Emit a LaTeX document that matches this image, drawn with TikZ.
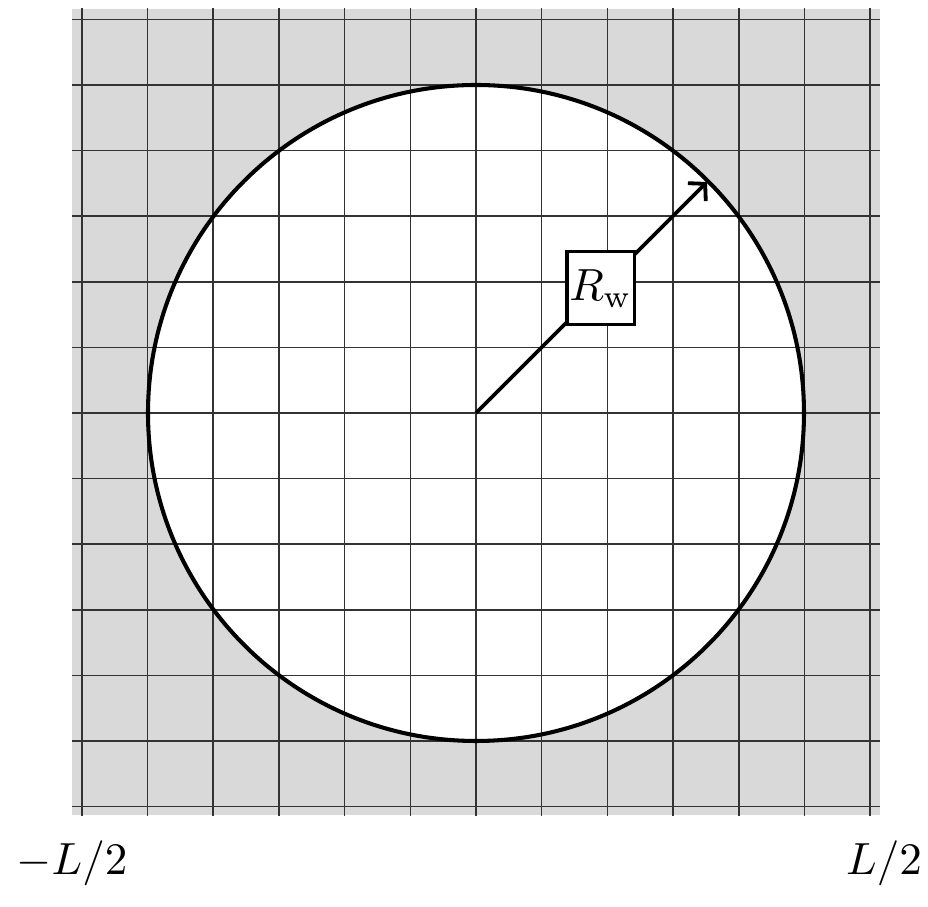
\documentclass[tikz,border=0pt]{standalone}
\usetikzlibrary{calc,arrows.meta}
\begin{document}
\begin{tikzpicture}[x=0.222pt,y=-0.222pt,
  gridline/.style={line width=0.33pt,black!80},
  wall/.style={line width=0.9pt,black},
  radius arrow/.style={line width=0.85pt,black,-{Straight Barb[length=2.6pt,width=5.6pt]}},
  labelbox/.style={draw,line width=0.75pt,fill=white,inner sep=0pt,minimum width=14.9pt,minimum height=16.2pt},
  edgelabel/.style={inner sep=0pt}]
\useasboundingbox (0,0) rectangle (928,907);
% gray domain
\fill[black!15] (72,9) rectangle (880,815);
% white disc
\coordinate (c) at (476,413);
\fill[white] (c) circle[radius=328];
% grid
\foreach \i in {-6,...,6}{
  \draw[gridline] ({476+65.7*\i},8) -- ({476+65.7*\i},816);
  \draw[gridline] (72,{413+65.6*\i}) -- (880,{413+65.6*\i});
}
% circle border
\draw[wall] (c) circle[radius=328];
% radius arrow
\coordinate (e) at (707,182);
\draw[radius arrow] (c) -- (e);
\node[labelbox] (rw) at ($(c)!0.54!(e)$) {$R_\mathrm{w}$};
% labels
\node[edgelabel] (lo) at (72,863) {$-L/2$};
\node[edgelabel] (hi) at (884,863) {$L/2$};
\end{tikzpicture}
\end{document}
